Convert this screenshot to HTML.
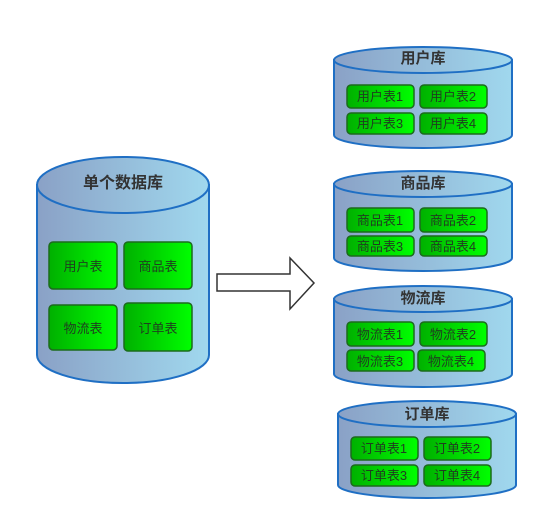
<!DOCTYPE html>
<html><head><meta charset="utf-8"><style>
html,body{margin:0;padding:0;background:#fff;}
svg text{font-family:"Liberation Sans","Noto Sans CJK SC",sans-serif;}
</style></head><body>
<svg width="550" height="525" viewBox="0 0 550 525" xmlns="http://www.w3.org/2000/svg">
<defs>
<linearGradient id="cyl" x1="0" x2="1" y1="0" y2="0"><stop offset="0" stop-color="#8aa1c6"/><stop offset="1" stop-color="#a0d8ee"/></linearGradient>
<linearGradient id="tb" x1="0" x2="1" y1="0" y2="0"><stop offset="0" stop-color="#00b000"/><stop offset="1" stop-color="#00ff00"/></linearGradient>
</defs>
<g stroke="#1f6fc4" stroke-width="2" fill="url(#cyl)">
<path d="M37,185 L37,355 A86,28 0 0 0 209,355 L209,185 Z"/>
<ellipse cx="123" cy="185" rx="86" ry="28"/>
<path d="M334,60 L334,135 A89,13 0 0 0 512,135 L512,60 Z"/>
<ellipse cx="423" cy="60" rx="89" ry="13"/>
<path d="M334,184 L334,258 A89,13 0 0 0 512,258 L512,184 Z"/>
<ellipse cx="423" cy="184" rx="89" ry="13"/>
<path d="M334,299 L334,374 A89,13 0 0 0 512,374 L512,299 Z"/>
<ellipse cx="423" cy="299" rx="89" ry="13"/>
<path d="M338,414 L338,485 A89,13 0 0 0 516,485 L516,414 Z"/>
<ellipse cx="427" cy="414" rx="89" ry="13"/>
</g>
<g font-weight="bold" fill="#333" text-anchor="middle">
<text x="123" y="188" font-size="16">单个数据库</text>
<text x="423" y="63" font-size="15">用户库</text>
<text x="423" y="188" font-size="15">商品库</text>
<text x="423" y="303" font-size="15">物流库</text>
<text x="427" y="419" font-size="15">订单库</text>
</g>
<g stroke="#1c6a1c" stroke-width="1.5" fill="url(#tb)">
<rect x="49" y="242" width="68" height="47" rx="4"/>
<rect x="124" y="242" width="68" height="47" rx="4"/>
<rect x="49" y="305" width="68" height="45" rx="4"/>
<rect x="124" y="303" width="68" height="48" rx="4"/>
<rect x="347" y="85" width="67" height="23" rx="4"/><rect x="420" y="85" width="67" height="23" rx="4"/>
<rect x="347" y="113" width="67" height="21" rx="4"/><rect x="420" y="113" width="67" height="21" rx="4"/>
<rect x="347" y="208" width="67" height="24" rx="4"/><rect x="420" y="208" width="67" height="24" rx="4"/>
<rect x="347" y="236" width="67" height="20" rx="4"/><rect x="420" y="236" width="67" height="20" rx="4"/>
<rect x="347" y="322" width="67" height="24" rx="4"/><rect x="420" y="322" width="67" height="24" rx="4"/>
<rect x="347" y="350" width="67" height="21" rx="4"/><rect x="418" y="350" width="67" height="21" rx="4"/>
<rect x="351" y="437" width="67" height="23" rx="4"/><rect x="424" y="437" width="67" height="23" rx="4"/>
<rect x="351" y="465" width="67" height="21" rx="4"/><rect x="424" y="465" width="67" height="21" rx="4"/>
</g>
<g fill="#1f3f1f" text-anchor="middle" font-size="13">
<text x="83" y="271">用户表</text><text x="158" y="271">商品表</text>
<text x="83" y="333">物流表</text><text x="158" y="333">订单表</text>
<text x="380" y="101">用户表1</text><text x="453" y="101">用户表2</text>
<text x="380" y="128">用户表3</text><text x="453" y="128">用户表4</text>
<text x="380" y="225">商品表1</text><text x="453" y="225">商品表2</text>
<text x="380" y="251">商品表3</text><text x="453" y="251">商品表4</text>
<text x="380" y="339">物流表1</text><text x="453" y="339">物流表2</text>
<text x="380" y="366">物流表3</text><text x="451" y="366">物流表4</text>
<text x="384" y="453">订单表1</text><text x="457" y="453">订单表2</text>
<text x="384" y="480">订单表3</text><text x="457" y="480">订单表4</text>
</g>
<path d="M217,274 L290,274 L290,258 L314,283 L290,309 L290,291 L217,291 Z" fill="#fff" stroke="#333" stroke-width="1.5"/>
</svg>
</body></html>
